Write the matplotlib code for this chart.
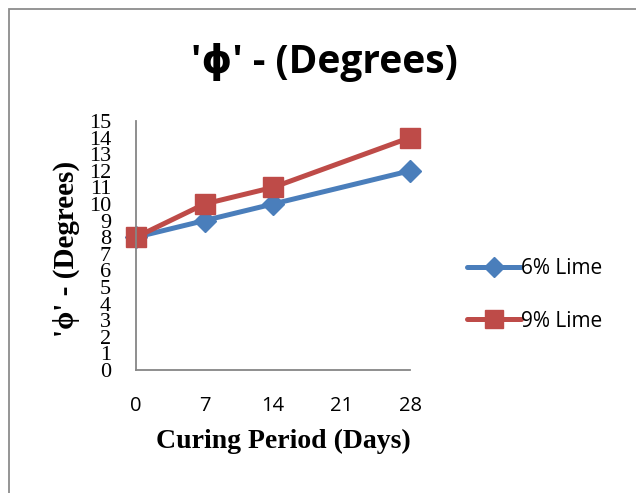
import matplotlib
matplotlib.use("Agg")
import matplotlib.pyplot as plt
from matplotlib.patches import Rectangle

days = [0, 7, 14, 28]
lime6 = [8, 9, 10, 12]
lime9 = [8, 10, 11, 14]
xticks = [0, 7, 14, 21, 28]
yticks = list(range(0, 16))

W, H = 636, 493
fig = plt.figure(figsize=(W / 100, H / 100), dpi=100)
fig.patch.set_facecolor("white")
# frame (left and top visible)
fig.add_artist(Rectangle((8.5 / W, -0.1), 1.2, (H - 8.5) / H + 0.1, transform=fig.transFigure,
                         fill=False, edgecolor="#8c8c8c", linewidth=1.3))

ax = fig.add_axes([136 / W, 1 - 370 / H, (410 - 136) / W, (370 - 121) / H])
ax.plot(days, lime6, color="#4A7EBB", linewidth=3.6, marker="D", markersize=11.5,
        label="6% Lime", solid_capstyle="round", solid_joinstyle="round")
ax.plot(days, lime9, color="#BE4B48", linewidth=3.6, marker="s", markersize=14.5,
        label="9% Lime", solid_capstyle="round", solid_joinstyle="round")
ax.set_xlim(0, 28)
ax.set_ylim(0, 15)
ax.set_xticks(xticks)
ax.set_xticklabels([str(t) for t in xticks], fontfamily="Open Sans", fontsize=14.5)
ax.set_yticks(yticks)
ax.set_yticklabels([str(t) for t in yticks], fontfamily="Liberation Serif", fontsize=16)
ax.tick_params(axis="x", length=0, pad=19)
ax.tick_params(axis="y", length=0, pad=18)
for s in ["top", "right"]:
    ax.spines[s].set_visible(False)
for s in ["left", "bottom"]:
    ax.spines[s].set_color("#868686")
    ax.spines[s].set_linewidth(1.3)
for line in ax.get_lines():
    line.set_clip_on(False)

fig.text(324 / W, 1 - 62 / H, "'ϕ' - (Degrees)", ha="center", va="center",
         fontfamily=["Open Sans", "DejaVu Sans"], fontweight="bold", fontsize=28)
fig.text(66 / W, 1 - 249 / H, "'ϕ' - (Degrees)", ha="center", va="center", rotation=90,
         fontfamily=["Liberation Serif", "DejaVu Serif"], fontweight="bold", fontsize=21)
fig.text(283 / W, 1 - 441 / H, "Curing Period (Days)", ha="center", va="center",
         fontfamily="Liberation Serif", fontweight="bold", fontsize=20)

leg = fig.legend(loc="center left", bbox_to_anchor=(448 / W, 1 - 295 / H), frameon=False,
                 prop={"family": "Open Sans", "size": 15}, handlelength=2.6,
                 handletextpad=0.0, labelspacing=1.5)
for h in leg.legend_handles:
    h.set_markersize(h.get_markersize() * 0.85)

fig.savefig("out.png", dpi=100)
